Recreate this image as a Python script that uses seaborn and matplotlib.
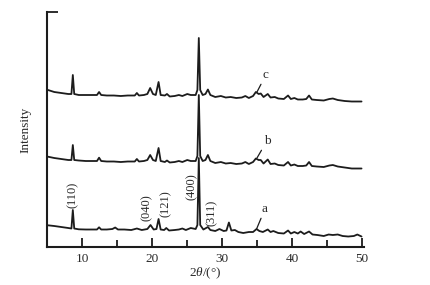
import matplotlib
matplotlib.use("Agg")
import matplotlib.pyplot as plt
import seaborn as sns

# ---- data (intensity in arbitrary units) ----
two_theta_bc = [5.1, 6.0, 7.0, 8.0, 8.45, 8.65, 8.85, 9.5, 10.5, 11.5, 12.1, 12.4, 12.7,
                13.5, 14.5, 15.5, 16.5, 17.5, 17.8, 18.1, 18.8, 19.3, 19.7, 20.1, 20.5,
                20.9, 21.2, 21.8, 22.1, 22.5, 23.2, 23.8, 24.3, 25.0, 25.5, 26.2, 26.45,
                26.65, 26.85, 27.2, 27.6, 27.95, 28.3, 29.0, 29.8, 30.5, 31.2, 32.0, 32.8,
                33.3, 33.8, 34.4, 34.8, 35.2, 35.5, 35.9, 36.5, 36.9, 37.5, 38.0, 38.8,
                39.4, 39.8, 40.3, 40.8, 41.5, 42.0, 42.4, 42.8, 43.5, 44.5, 45.3, 45.8,
                46.5, 47.5, 48.5, 49.9]

intensity_c = [157, 155, 154, 153, 153, 172, 153, 152, 152, 152, 152, 155, 152,
               151.5, 151.5, 151, 151.5, 151.5, 154, 151.5, 152, 153, 159, 153, 152,
               165, 152, 151.5, 153, 150.5, 151, 152, 151, 153, 152, 152, 157,
               209, 157, 152, 153, 157.5, 152, 150, 151, 149.5, 150, 149, 149.5,
               151, 149, 151, 155, 153, 153.5, 150, 153, 149.5, 150, 148.5, 148,
               151.5, 148, 149, 147.5, 147.5, 148, 151.5, 147.5, 147, 146.5, 148, 148.5,
               147, 146, 145.5, 145.5]

intensity_b = [90.3, 89, 88, 87, 87, 102, 87, 86.5, 86, 86, 86, 89.3, 86,
               85.5, 85.5, 85, 85.5, 85.5, 88, 85.5, 86, 87, 92, 87, 86,
               99, 86, 85, 86.5, 84.5, 85, 86, 85, 87, 86, 86, 91,
               152, 91, 86, 87, 92, 86, 84, 85, 83.5, 84, 83, 83.5,
               85, 83, 85, 88.5, 87, 87, 83.5, 87.5, 83, 83.5, 82, 81.5,
               85, 81.5, 82.5, 81, 81, 81.5, 85, 81, 80.5, 80, 81.5, 82,
               80.5, 79.5, 78.5, 78.5]

two_theta_a = [5.1, 6.0, 7.0, 8.0, 8.45, 8.65, 8.85, 9.5, 10.5, 11.5, 12.1, 12.4, 12.7,
               13.5, 14.3, 14.7, 15.1, 16.0, 17.0, 17.8, 18.5, 19.3, 19.75, 20.2, 20.6,
               20.9, 21.2, 21.7, 22.0, 22.4, 23.2, 23.8, 24.3, 24.8, 25.5, 26.2, 26.45,
               26.65, 26.85, 27.3, 27.95, 28.3, 29.0, 29.6, 30.2, 30.6, 30.95, 31.3, 31.8,
               32.3, 33.0, 33.8, 34.4, 34.9, 35.3, 35.8, 36.5, 36.9, 37.3, 38.0, 38.8,
               39.4, 39.8, 40.3, 40.8, 41.2, 41.7, 42.4, 42.9, 43.6, 44.5, 45.2, 45.8,
               46.5, 47.2, 48.0, 48.8, 49.3, 49.9]

intensity_a = [21.7, 21, 20, 19, 18.5, 37, 18.5, 17.7, 17.5, 17.5, 17.5, 19.7, 17.5,
               17.5, 18, 19.5, 17.5, 17.5, 17, 18.5, 17, 18, 22, 17.5, 18,
               28, 17.5, 17, 19, 16.5, 17, 17.5, 18.5, 17, 19, 18, 22,
               89, 22, 17.5, 20, 17, 16, 18, 16, 16.5, 24.5, 16.5, 17,
               15, 14, 15, 15, 18, 16, 15, 17.5, 15, 16, 14, 13.5,
               16.5, 13.5, 15, 13.5, 15.5, 13, 15.5, 12.5, 12, 11, 12.5, 12,
               12.5, 11, 10.5, 11, 12.5, 10.5]

miller_labels = ["(110)", "(040)", "(121)", "(400)", "(311)"]
miller_x = [8.67, 19.24, 21.96, 25.67, 28.53]
miller_y = [52, 39, 43, 60, 34]

curve_names = ["a", "b", "c"]
curve_peak_x = [34.9, 34.96, 34.96]
curve_peak_y = [18, 89, 155]
curve_text_x = [35.67, 35.9, 35.8]
curve_text_y = [32, 100, 166]

x_ticks_major = [10, 20, 30, 40, 50]
x_ticks_minor = [15, 25, 35, 45]

# ---- style ----
sns.set_theme(style="ticks")
plt.rcParams["font.family"] = ["Liberation Serif", "DejaVu Serif"]
plt.rcParams["mathtext.fontset"] = "custom"
plt.rcParams["mathtext.rm"] = "Liberation Serif"
plt.rcParams["mathtext.it"] = "Liberation Serif:italic"

ink = "#1c1c1c"
txt = "#2a2a2a"

fig = plt.figure(figsize=(4.31, 2.85), dpi=100)
ax = fig.add_axes([0.1097, 0.1333, 0.734, 0.8246])

for xs, ys in [(two_theta_a, intensity_a), (two_theta_bc, intensity_b), (two_theta_bc, intensity_c)]:
    sns.lineplot(x=xs, y=ys, ax=ax, color=ink, lw=1.3, estimator=None, sort=False)

ax.set_xlim(5, 50.2)
ax.set_ylim(0, 235)

for s in ["top", "right"]:
    ax.spines[s].set_visible(False)
for s in ["left", "bottom"]:
    ax.spines[s].set_linewidth(1.5)
    ax.spines[s].set_color(ink)

ax.set_xticks(x_ticks_major)
ax.set_xticks(x_ticks_minor, minor=True)
ax.tick_params(axis="x", which="major", direction="in", length=6.5, width=1.3,
               color=ink, labelsize=9.5, labelcolor=txt, pad=4)
ax.tick_params(axis="x", which="minor", direction="in", length=5, width=1.3, color=ink)
ax.set_yticks([235])
ax.set_yticklabels([""])
ax.tick_params(axis="y", which="major", direction="in", length=8, width=1.3, color=ink)

ax.set_xlabel(r"2$\mathit{θ}$/(°)", fontsize=9.5, color=txt, labelpad=1)
ax.set_ylabel("Intensity", fontsize=9.5, color=txt, labelpad=8)

for lab, lx, ly in zip(miller_labels, miller_x, miller_y):
    ax.text(lx, ly, lab, rotation=90, ha="center", va="center", fontsize=9, color=txt)

for nm, px, py, tx, ty in zip(curve_names, curve_peak_x, curve_peak_y, curve_text_x, curve_text_y):
    ax.annotate(nm, xy=(px, py), xytext=(tx, ty), ha="left", va="bottom", fontsize=9.5,
                color=txt,
                arrowprops=dict(arrowstyle="-", lw=0.9, color=ink, shrinkA=0, shrinkB=0))

fig.savefig("out.png", dpi=100, facecolor="white")
